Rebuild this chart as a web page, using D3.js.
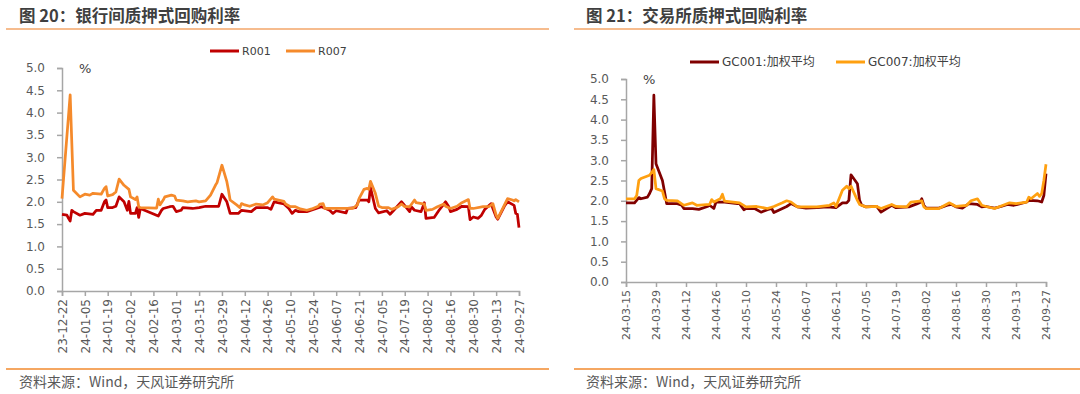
<!DOCTYPE html>
<html>
<head>
<meta charset="utf-8">
<script src="https://cdn.jsdelivr.net/npm/d3@7"></script>
<style>
  body { margin: 0; background: #fff; }
  svg { display: block; }
</style>
</head>
<body>
<div id="chart"></div>
<script>
// data
var r001Dates = ["2023-12-22","2023-12-25","2023-12-26","2023-12-27","2023-12-28","2023-12-29","2024-01-02","2024-01-05","2024-01-10","2024-01-12","2024-01-15","2024-01-17","2024-01-18","2024-01-19","2024-01-22","2024-01-24","2024-01-26","2024-01-29","2024-01-31","2024-02-01","2024-02-02","2024-02-05","2024-02-06","2024-02-07","2024-02-08","2024-02-19","2024-02-21","2024-02-22","2024-02-26","2024-02-28","2024-03-01","2024-03-04","2024-03-05","2024-03-11","2024-03-15","2024-03-19","2024-03-27","2024-03-29","2024-04-01","2024-04-03","2024-04-08","2024-04-10","2024-04-16","2024-04-19","2024-04-26","2024-04-28","2024-04-30","2024-05-06","2024-05-09","2024-05-11","2024-05-13","2024-05-15","2024-05-20","2024-05-24","2024-05-29","2024-06-03","2024-06-05","2024-06-07","2024-06-13","2024-06-14","2024-06-19","2024-06-21","2024-06-26","2024-06-27","2024-06-28","2024-07-01","2024-07-03","2024-07-08","2024-07-10","2024-07-12","2024-07-17","2024-07-18","2024-07-22","2024-07-23","2024-07-25","2024-07-29","2024-07-31","2024-08-01","2024-08-06","2024-08-09","2024-08-13","2024-08-15","2024-08-16","2024-08-20","2024-08-23","2024-08-27","2024-08-28","2024-08-30","2024-09-02","2024-09-04","2024-09-06","2024-09-10","2024-09-11","2024-09-13","2024-09-14","2024-09-18","2024-09-20","2024-09-24","2024-09-25","2024-09-26","2024-09-27"];
var r001 = [1.72,1.70,1.63,1.57,1.81,1.78,1.70,1.74,1.72,1.81,1.81,2.00,2.04,1.87,1.87,1.90,2.11,2.00,1.81,2.01,1.74,1.74,1.87,1.65,1.85,1.68,1.81,1.85,1.89,1.90,1.78,1.81,1.87,1.85,1.87,1.90,1.90,2.17,2.00,1.74,1.74,1.81,1.78,1.87,1.87,1.83,2.00,1.95,1.85,1.74,1.81,1.78,1.78,1.83,1.89,1.81,1.74,1.80,1.75,1.85,1.87,2.04,2.04,2.00,2.32,1.85,1.75,1.80,1.72,1.80,2.00,1.96,1.78,1.89,1.81,1.78,1.98,1.63,1.65,1.81,2.00,1.89,1.78,1.83,1.90,1.89,1.60,1.66,1.63,1.70,1.83,1.96,1.85,1.66,1.61,1.90,2.00,1.92,1.74,1.72,1.42];

var r007Dates = ["2023-12-22","2023-12-27","2023-12-29","2024-01-02","2024-01-05","2024-01-08","2024-01-10","2024-01-15","2024-01-17","2024-01-18","2024-01-19","2024-01-22","2024-01-24","2024-01-26","2024-01-29","2024-02-01","2024-02-02","2024-02-05","2024-02-06","2024-02-07","2024-02-08","2024-02-18","2024-02-19","2024-02-20","2024-02-22","2024-02-23","2024-02-27","2024-02-29","2024-03-01","2024-03-05","2024-03-08","2024-03-13","2024-03-15","2024-03-19","2024-03-22","2024-03-25","2024-03-26","2024-03-29","2024-04-01","2024-04-02","2024-04-03","2024-04-07","2024-04-09","2024-04-10","2024-04-12","2024-04-15","2024-04-19","2024-04-23","2024-04-26","2024-04-29","2024-04-30","2024-05-06","2024-05-07","2024-05-10","2024-05-13","2024-05-16","2024-05-20","2024-05-23","2024-05-27","2024-05-28","2024-05-30","2024-05-31","2024-06-17","2024-06-20","2024-06-21","2024-06-24","2024-06-26","2024-06-27","2024-06-28","2024-07-01","2024-07-03","2024-07-05","2024-07-09","2024-07-11","2024-07-15","2024-07-17","2024-07-19","2024-07-22","2024-07-25","2024-07-26","2024-07-31","2024-08-01","2024-08-05","2024-08-08","2024-08-12","2024-08-13","2024-08-16","2024-08-20","2024-08-23","2024-08-27","2024-08-28","2024-08-30","2024-09-05","2024-09-09","2024-09-11","2024-09-13","2024-09-14","2024-09-20","2024-09-23","2024-09-24","2024-09-25","2024-09-27"];
var r007 = [2.07,4.40,2.26,2.11,2.17,2.15,2.19,2.17,2.30,2.34,2.13,2.16,2.22,2.51,2.37,2.28,2.11,2.05,2.11,1.89,1.87,1.86,2.06,1.93,2.04,2.11,2.15,2.13,2.04,2.02,2.00,2.02,2.00,2.02,2.15,2.37,2.43,2.82,2.45,2.26,2.04,1.93,1.87,1.96,1.93,1.90,1.95,1.93,1.98,2.11,2.06,2.01,1.95,1.89,1.89,1.84,1.81,1.84,1.90,1.95,1.96,1.85,1.85,1.93,2.07,2.28,2.30,2.28,2.46,2.19,1.90,1.87,1.87,1.83,1.89,1.95,1.89,1.89,2.04,1.98,1.95,1.81,1.83,1.89,1.95,1.90,1.85,1.90,1.98,2.05,1.85,1.85,1.89,1.90,1.96,1.70,1.63,2.07,2.04,2.02,2.05,2.00];

var gc001Dates = ["2024-03-15","2024-03-19","2024-03-21","2024-03-22","2024-03-25","2024-03-26","2024-03-27","2024-03-28","2024-03-29","2024-04-01","2024-04-03","2024-04-08","2024-04-10","2024-04-11","2024-04-15","2024-04-18","2024-04-22","2024-04-23","2024-04-25","2024-04-26","2024-04-30","2024-05-06","2024-05-07","2024-05-09","2024-05-10","2024-05-14","2024-05-17","2024-05-20","2024-05-22","2024-05-23","2024-05-27","2024-05-29","2024-05-31","2024-06-03","2024-06-07","2024-06-12","2024-06-17","2024-06-21","2024-06-24","2024-06-26","2024-06-27","2024-06-28","2024-07-01","2024-07-02","2024-07-03","2024-07-05","2024-07-10","2024-07-12","2024-07-15","2024-07-17","2024-07-19","2024-07-25","2024-07-29","2024-07-30","2024-07-31","2024-08-01","2024-08-02","2024-08-08","2024-08-12","2024-08-14","2024-08-16","2024-08-19","2024-08-22","2024-08-26","2024-08-28","2024-08-30","2024-09-03","2024-09-06","2024-09-09","2024-09-12","2024-09-18","2024-09-19","2024-09-23","2024-09-25","2024-09-26","2024-09-27"];
var gc001 = [1.95,1.95,2.08,2.05,2.09,2.18,2.30,4.60,2.91,2.50,1.93,1.93,1.89,1.81,1.81,1.79,1.86,1.89,1.81,1.97,1.97,1.93,1.93,1.78,1.81,1.81,1.72,1.78,1.81,1.71,1.81,1.86,1.93,1.85,1.82,1.83,1.85,1.83,1.95,1.95,2.01,2.64,2.42,2.01,1.89,1.85,1.86,1.72,1.82,1.89,1.83,1.85,1.93,1.95,2.05,1.89,1.82,1.82,1.89,1.91,1.85,1.82,1.93,1.91,1.85,1.86,1.82,1.86,1.91,1.89,1.97,2.01,2.00,1.97,2.13,2.67];

var gc007Dates = ["2024-03-15","2024-03-19","2024-03-20","2024-03-21","2024-03-22","2024-03-26","2024-03-28","2024-03-29","2024-04-01","2024-04-02","2024-04-03","2024-04-08","2024-04-11","2024-04-15","2024-04-17","2024-04-23","2024-04-24","2024-04-25","2024-04-28","2024-04-29","2024-04-30","2024-05-07","2024-05-10","2024-05-15","2024-05-20","2024-05-23","2024-05-27","2024-05-29","2024-05-31","2024-06-03","2024-06-07","2024-06-12","2024-06-18","2024-06-20","2024-06-21","2024-06-24","2024-06-26","2024-06-27","2024-06-28","2024-07-01","2024-07-02","2024-07-05","2024-07-10","2024-07-12","2024-07-17","2024-07-19","2024-07-24","2024-07-26","2024-07-31","2024-08-01","2024-08-02","2024-08-08","2024-08-13","2024-08-16","2024-08-21","2024-08-23","2024-08-26","2024-08-28","2024-08-30","2024-09-03","2024-09-07","2024-09-10","2024-09-13","2024-09-18","2024-09-19","2024-09-20","2024-09-23","2024-09-24","2024-09-25","2024-09-26","2024-09-27"];
var gc007 = [2.05,2.05,2.13,2.50,2.55,2.63,2.77,2.30,2.24,2.05,2.01,2.00,1.89,1.95,1.89,1.91,2.03,1.97,2.05,2.16,1.99,1.95,1.85,1.86,1.81,1.86,1.95,2.00,1.97,1.85,1.85,1.85,1.89,1.95,1.86,2.26,2.36,2.30,2.36,2.01,1.91,1.85,1.86,1.81,1.91,1.86,1.85,1.97,2.00,1.85,1.81,1.81,1.95,1.86,1.89,2.00,2.05,1.89,1.86,1.81,1.89,1.95,1.93,1.97,2.09,2.05,2.18,2.11,2.18,2.50,2.90];

var yTicks = [0, 0.5, 1.0, 1.5, 2.0, 2.5, 3.0, 3.5, 4.0, 4.5, 5.0];

var parse = d3.timeParse("%Y-%m-%d");
var fmt = d3.timeFormat("%y-%m-%d");

var svg = d3.select("#chart").append("svg")
  .attr("width", 1080)
  .attr("height", 394);

function series(dates, vals) {
  return dates.map(function(d, i) { return { date: parse(d), v: vals[i] }; });
}

// header / footer decorations for each panel
function frame(x0, x1, tx, title) {
  svg.append("line")
    .attr("x1", x0).attr("x2", x1).attr("y1", 29).attr("y2", 29)
    .attr("stroke", "#F6BC8E").attr("stroke-width", 2);
  svg.append("line")
    .attr("x1", x0).attr("x2", x1).attr("y1", 369).attr("y2", 369)
    .attr("stroke", "#F28A2E").attr("stroke-width", 1.5);
  svg.append("text")
    .attr("x", tx).attr("y", 22)
    .attr("font-family", "'Noto Sans CJK SC', sans-serif")
    .attr("font-size", "16.5px")
    .attr("font-weight", "bold")
    .attr("fill", "#3F3F3F")
    .text(title);
  svg.append("text")
    .attr("x", tx).attr("y", 387)
    .attr("font-family", "'Noto Sans CJK SC', sans-serif")
    .attr("font-size", "14px")
    .attr("fill", "#595959")
    .text("资料来源：Wind，天风证券研究所");
}

function panel(cfg) {
  var start = parse(cfg.start), end = parse(cfg.end);
  var x = d3.scaleTime().domain([start, end]).range([cfg.left, cfg.right]);
  var y = d3.scaleLinear().domain([0, 5]).range([cfg.bottom, cfg.top]);
  var g = svg.append("g");

  // y axis
  var yAxis = g.append("g")
    .attr("transform", "translate(" + cfg.left + ",0)")
    .call(d3.axisLeft(y).tickValues(yTicks).tickSize(5).tickPadding(12).tickFormat(d3.format(".1f")));
  yAxis.select(".domain").attr("stroke", "#A6A6A6").attr("stroke-width", 1.5);
  yAxis.selectAll(".tick line").attr("stroke", "#A6A6A6").attr("stroke-width", 1.5);
  yAxis.selectAll("text")
    .attr("font-family", "'DejaVu Sans', sans-serif")
    .attr("font-size", "12px")
    .attr("fill", "#595959");

  // x axis, one tick every 14 days
  var xTicks = d3.range(cfg.nTicks).map(function(i) { return d3.timeDay.offset(start, 14 * i); });
  var xAxis = g.append("g")
    .attr("transform", "translate(0," + cfg.bottom + ")")
    .call(d3.axisBottom(x).tickValues(xTicks).tickSize(5).tickFormat(fmt));
  xAxis.select(".domain").attr("stroke", "#A6A6A6").attr("stroke-width", 1.5);
  xAxis.selectAll(".tick line").attr("stroke", "#A6A6A6").attr("stroke-width", 1.5);
  xAxis.selectAll("text")
    .attr("transform", "rotate(-90)")
    .attr("x", -8).attr("y", 0).attr("dy", "0.35em")
    .attr("text-anchor", "end")
    .attr("font-family", "'DejaVu Sans', sans-serif")
    .attr("font-size", cfg.xFont)
    .attr("fill", "#595959");

  g.append("text")
    .attr("x", cfg.left + 17).attr("y", cfg.top + 5)
    .attr("font-family", "'DejaVu Sans', sans-serif")
    .attr("font-size", "13px")
    .attr("fill", "#404040")
    .text("%");

  var line = d3.line()
    .x(function(d) { return x(d.date); })
    .y(function(d) { return y(d.v); });

  cfg.lines.forEach(function(s) {
    g.append("path")
      .datum(series(s.dates, s.vals))
      .attr("fill", "none")
      .attr("stroke", s.color)
      .attr("stroke-width", 2.75)
      .attr("stroke-linejoin", "round")
      .attr("d", line);
  });

  // legend
  cfg.lines.forEach(function(s) {
    g.append("line")
      .attr("x1", s.lx).attr("x2", s.lx + 29)
      .attr("y1", cfg.legendY).attr("y2", cfg.legendY)
      .attr("stroke", s.color).attr("stroke-width", 3);
    g.append("text")
      .attr("x", s.lx + 32).attr("y", cfg.legendY).attr("dy", "0.35em")
      .attr("font-family", "'DejaVu Sans', 'Noto Sans CJK SC', sans-serif")
      .attr("font-size", cfg.legendFont)
      .attr("fill", "#404040")
      .text(s.name);
  });
}

frame(6, 549, 19, "图 20：银行间质押式回购利率");
frame(574, 1080, 586, "图 21：交易所质押式回购利率");

panel({
  start: "2023-12-22", end: "2024-09-27", nTicks: 21,
  left: 62, right: 519, top: 68, bottom: 291,
  xFont: "12px", legendY: 51, legendFont: "11px",
  lines: [
    { name: "R001", dates: r001Dates, vals: r001, color: "#C00000", lx: 210 },
    { name: "R007", dates: r007Dates, vals: r007, color: "#F58A2B", lx: 286 }
  ]
});

panel({
  start: "2024-03-15", end: "2024-09-27", nTicks: 15,
  left: 626, right: 1046, top: 79, bottom: 282,
  xFont: "11px", legendY: 62, legendFont: "12px",
  lines: [
    { name: "GC001:加权平均", dates: gc001Dates, vals: gc001, color: "#800000", lx: 690 },
    { name: "GC007:加权平均", dates: gc007Dates, vals: gc007, color: "#FFA010", lx: 836 }
  ]
});
</script>
</body>
</html>
